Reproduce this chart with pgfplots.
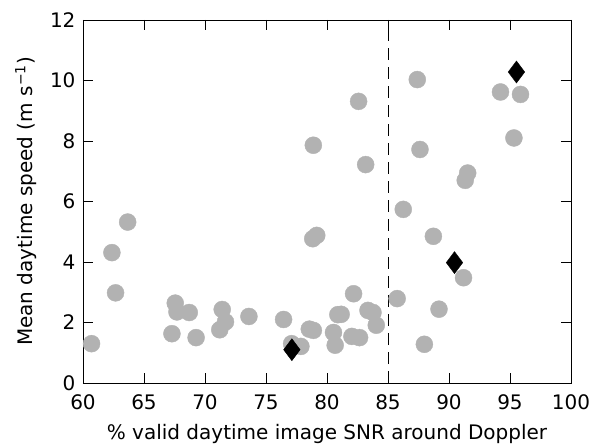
\documentclass[border=0pt]{standalone}
\usepackage{pgfplots}
\pgfplotsset{compat=1.18}
\usepackage{fontspec}
\setmainfont{DejaVu Sans}
\definecolor{ptgray}{RGB}{178,178,178}
\begin{document}
\begin{tikzpicture}
\begin{axis}[
  scale only axis, width=488pt, height=363pt,
  xmin=60, xmax=100, ymin=0, ymax=12,
  xtick={60,65,...,100}, ytick={0,2,...,12},
  tick align=inside, major tick length=10pt,
  tick style={black, line width=0.8pt},
  axis line style={line width=0.8pt},
  /pgf/number format/assume math mode=true,
  ticklabel style={font=\fontsize{20}{24}\selectfont},
  label style={font=\fontsize{20}{24}\selectfont},
  xlabel={\% valid daytime image SNR around Doppler},
  ylabel={Mean daytime speed (m s\textsuperscript{\symbol{"2212}1})},
  xticklabel style={yshift=-8pt},
  yticklabel style={xshift=-4pt},
  xlabel style={yshift=-8pt},
  ylabel style={yshift=6pt},
  clip=false,
]
\addplot[only marks, mark=*, mark size=8.5pt, mark options={fill=ptgray, draw=ptgray}] coordinates {
(60.7,1.30) (62.37,4.31) (62.67,2.98) (63.66,5.32) (67.56,2.64) (67.70,2.35)
(68.71,2.33) (67.29,1.63) (69.27,1.50) (71.41,2.43) (71.68,2.02) (71.21,1.76)
(73.60,2.20) (76.44,2.10) (77.10,1.30) (77.86,1.21) (78.55,1.78) (78.88,1.74)
(78.88,7.86) (78.83,4.77) (79.16,4.88) (80.89,2.26) (80.53,1.67) (80.67,1.25)
(81.16,2.27) (82.04,1.54) (82.67,1.50) (82.18,2.95) (83.36,2.40) (83.77,2.33)
(84.04,1.91) (82.59,9.31) (83.17,7.22) (85.75,2.79) (86.25,5.74) (87.40,10.03)
(87.62,7.72) (87.98,1.28) (88.72,4.85) (89.18,2.44) (91.19,3.48) (91.33,6.70)
(91.53,6.94) (94.22,9.62) (95.86,9.54) (95.32,8.10)
};
\addplot[only marks, mark=diamond*, mark size=11pt, mark options={fill=black, draw=black}] coordinates {
(77.12,1.10) (90.45,3.98) (95.53,10.28)
};
\addplot[black, line width=0.9pt, dash pattern=on 12pt off 7pt] coordinates {(85,0) (85,12)};
\end{axis}
\pgfresetboundingbox
\useasboundingbox (-83pt,-61pt) rectangle (508pt,383pt);
\end{tikzpicture}
\end{document}
